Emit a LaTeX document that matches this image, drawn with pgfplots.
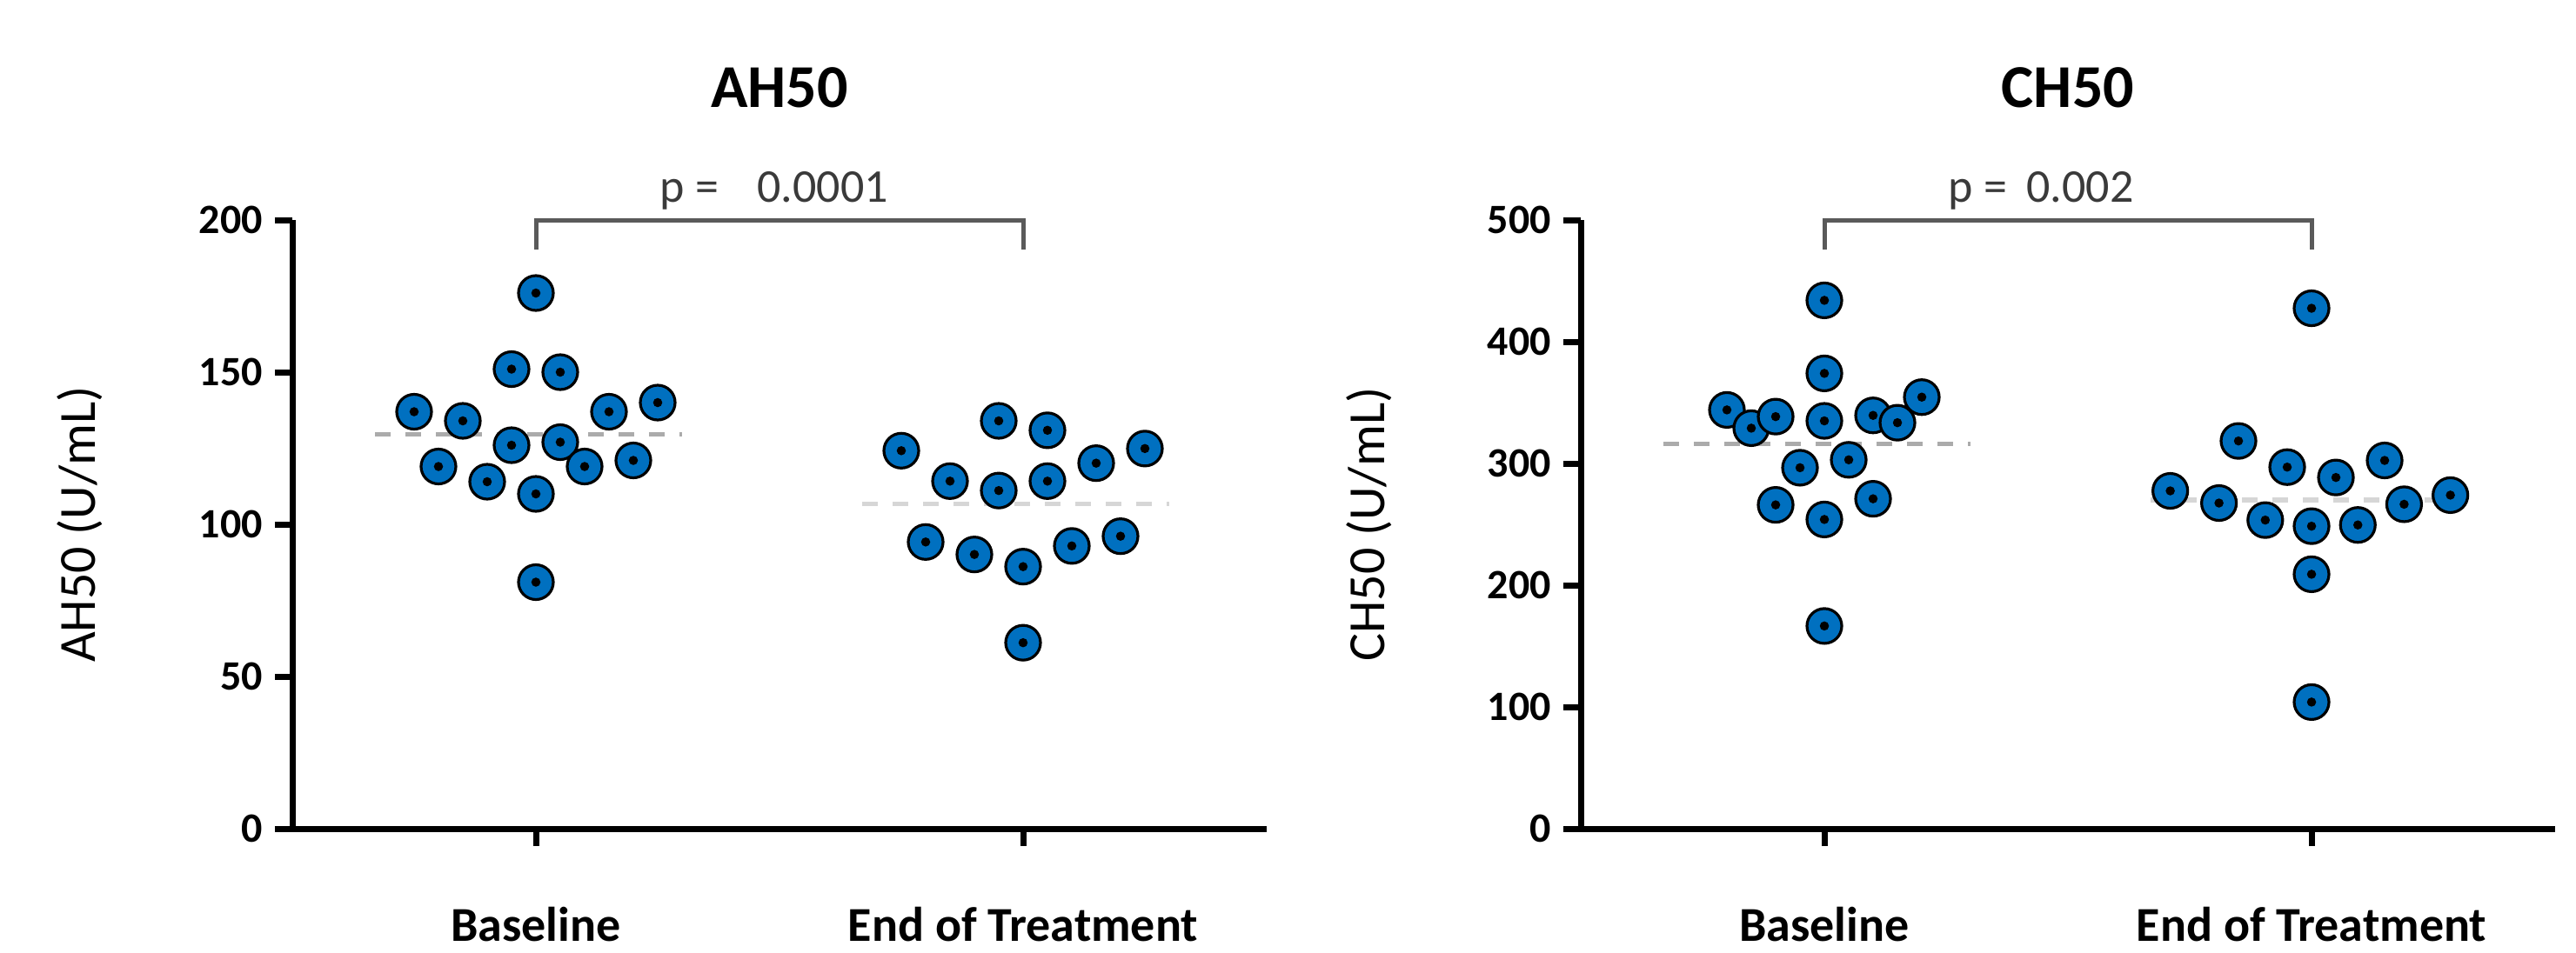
\documentclass[border=0pt]{standalone}
\usepackage{fontspec}
\setmainfont{Carlito}
\usepackage{pgfplots}
\pgfplotsset{compat=1.18}
\usepackage{pgfplotstable}
\definecolor{dotblue}{HTML}{0070C0}
\definecolor{brk}{HTML}{5A5A5A}
\definecolor{ptxt}{HTML}{3A3A3A}
\definecolor{meanA}{HTML}{ABABAB}
\definecolor{meanB}{HTML}{D6D6D6}

\pgfplotstableread{
x y
0 176
-0.05 151
0.05 150
-0.25 137
-0.15 134
0.15 137
0.25 140
-0.05 126
0.05 127
-0.2 119
0.1 119
0.2 121
-0.1 114
0 110
0 81
}\AHbase
\pgfplotstableread{
x y
0.75 124.2
0.85 114.2
0.95 134
0.95 111.1
1.05 130.9
1.05 114.2
1.15 120.1
1.25 124.9
0.8 94.2
0.9 90.1
1.0 86.1
1.1 92.9
1.2 96.1
1.0 61.1
}\AHend
\pgfplotstableread{
x y
0 434
0 374
-0.2 344
-0.15 329
-0.1 338.5
0 335
0.1 339.5
0.15 333.5
0.2 354.5
-0.05 296.5
0.05 303
-0.1 266
0.1 271
0 254
0 166.5
}\CHbase
\pgfplotstableread{
x y
1 427.5
0.85 318.5
0.95 297
1.05 288.5
1.15 302.5
0.71 277.5
0.81 267.5
0.905 253.5
1 248.5
1.095 249.5
1.19 266.5
1.285 274
1 209
1 104
}\CHend

\pgfplotsset{
 every axis title shift=0pt,
 panel/.style={
  scale only axis, width=280pt, height=175pt,
  axis x line=bottom, axis y line=left,
  axis line style={line width=1.75pt, -},
  xmin=-0.5, xmax=1.5, enlargelimits=false, clip=false,
  xtick={0,1}, xticklabels={Baseline,End of Treatment},
  tick align=outside, major tick length=5pt,
  tick style={black, line width=1.75pt},
  /pgf/number format/assume math mode=true,
  yticklabel style={font=\bfseries\fontsize{12}{14}\selectfont},
  xticklabel style={font=\bfseries\fontsize{14}{16}\selectfont, anchor=base, yshift=-27.25pt},
  ylabel style={font=\fontsize{15}{18}\selectfont, at={(axis description cs:-0.2018,0.5)}, anchor=base},
  title style={font=\bfseries\fontsize{17.5}{20}\selectfont, at={(axis description cs:0.5,1)}, anchor=base, yshift=32.5pt},
 },
 dots/.style={only marks, mark=*, mark size=5pt, mark options={fill=dotblue, draw=black, line width=0.8pt}},
 centers/.style={only marks, mark=*, mark size=1.1pt, mark options={fill=black, draw=black}},
 meanline/.style={line width=1.3pt, dash pattern=on 4.5pt off 4.25pt, #1},
 bracket/.style={brk, line width=1.25pt},
}

\begin{document}
\begin{tikzpicture}
\useasboundingbox (0,0) rectangle (740.25pt,273.75pt);
\begin{axis}[panel, at={(84pt,35.5pt)}, anchor=south west,
  ymin=0, ymax=200, ytick={0,50,100,150,200},
  ylabel={AH50 (U/mL)}, title={AH50}]
\addplot[dots] table {\AHbase};
\addplot[centers] table {\AHbase};
\addplot[dots] table {\AHend};
\addplot[centers] table {\AHend};
\addplot[meanline=meanA] coordinates {(-0.33,129.5) (0.30,129.5)};
\addplot[meanline=meanB] coordinates {(0.67,106.7) (1.30,106.7)};
\addplot[bracket] coordinates {(0,190.3) (0,200) (1,200) (1,190.3)};
\node[anchor=base west, text=ptxt, font=\fontsize{13.5}{16}\selectfont] at (axis cs:0.23,206) {p =\hspace{11pt}0.0001};
\draw[line width=1.75pt] (axis cs:-0.5,0) -- ++(-4.75pt,0);
\end{axis}
\begin{axis}[panel, at={(454.25pt,35.5pt)}, anchor=south west,
  ymin=0, ymax=500, ytick={0,100,200,300,400,500},
  ylabel={CH50 (U/mL)}, title={CH50}]
\addplot[dots] table {\CHbase};
\addplot[centers] table {\CHbase};
\addplot[dots] table {\CHend};
\addplot[centers] table {\CHend};
\addplot[meanline=meanA] coordinates {(-0.33,316) (0.30,316)};
\addplot[meanline=meanB] coordinates {(0.67,270) (1.30,270)};
\addplot[bracket] coordinates {(0,475.7) (0,500) (1,500) (1,475.7)};
\node[anchor=base west, text=ptxt, font=\fontsize{13.5}{16}\selectfont] at (axis cs:0.23,515) {p =\hspace{5.5pt}0.002};
\draw[line width=1.75pt] (axis cs:-0.5,0) -- ++(-4.75pt,0);
\end{axis}
\end{tikzpicture}
\end{document}
